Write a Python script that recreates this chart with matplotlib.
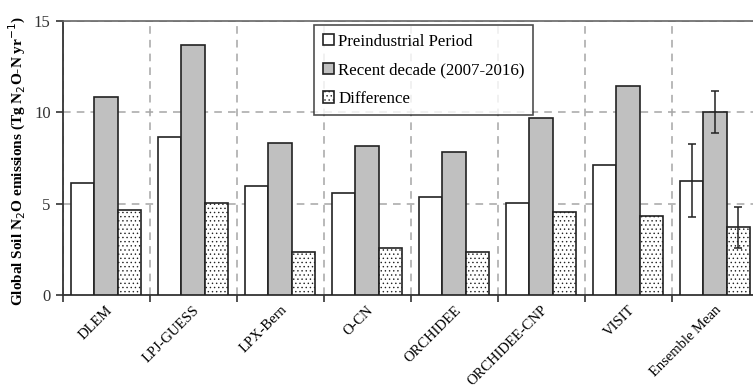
import numpy as np
import matplotlib
matplotlib.use('Agg')
import matplotlib.pyplot as plt

plt.rcParams['font.family'] = 'Liberation Serif'
plt.rcParams['hatch.linewidth'] = 0.5

models = ['DLEM', 'LPJ-GUESS', 'LPX-Bern', 'O-CN', 'ORCHIDEE',
          'ORCHIDEE-CNP', 'VISIT', 'Ensemble Mean']
preindustrial = [6.15, 8.65, 5.95, 5.57, 5.37, 5.05, 7.1, 6.26]
recent = [10.85, 13.68, 8.33, 8.15, 7.82, 9.67, 11.45, 10.0]
difference = [4.65, 5.03, 2.35, 2.57, 2.38, 4.56, 4.3, 3.7]
# error bars only for the ensemble mean
err_pre = [0, 0, 0, 0, 0, 0, 0, 2.0]
err_recent = [0, 0, 0, 0, 0, 0, 0, 1.15]
err_diff = [0, 0, 0, 0, 0, 0, 0, 1.1]

fig = plt.figure(figsize=(7.53, 3.92), dpi=100)
ax = fig.add_axes([62.5 / 753, 97 / 392, 696 / 753, 274 / 392])

x = np.arange(len(models)) + 0.5
w = 0.267
edge = '#222222'
ekw = dict(ecolor='#222222', elinewidth=1.1, capthick=1.1)

def nz(e):
    # hide zero error bars
    return [v if v > 0 else np.nan for v in e]

ax.bar(x - w, preindustrial, w, color='white', edgecolor=edge, linewidth=1.2,
       label='Preindustrial Period', zorder=3)
ax.bar(x, recent, w, color='#c0c0c0', edgecolor=edge, linewidth=1.2,
       label='Recent decade (2007-2016)', zorder=3)
ax.bar(x + w, difference, w, color='white', edgecolor=edge, linewidth=1.2,
       hatch='....', label='Difference', zorder=3)

ax.errorbar(x - w, preindustrial, yerr=nz(err_pre), fmt='none', capsize=3, zorder=4, **ekw)
ax.errorbar(x, recent, yerr=nz(err_recent), fmt='none', capsize=3, zorder=4, **ekw)
ax.errorbar(x + w, difference, yerr=nz(err_diff), fmt='none', capsize=3, zorder=4, **ekw)

ax.set_xlim(0, len(models))
ax.set_ylim(0, 15)
ax.set_yticks([0, 5, 10, 15])
ax.set_xticks(np.arange(len(models) + 1))
ax.set_xticklabels([])
ax.set_xticks(x, minor=True)
ax.set_xticklabels(models, minor=True, rotation=45, ha='right',
                   rotation_mode='anchor', fontsize=10.5)
ax.tick_params(axis='x', which='minor', length=0, pad=6)
ax.tick_params(axis='x', which='major', length=5, width=1.2, color='#333333')
ax.tick_params(axis='y', length=5, width=1.2, color='#333333', labelsize=12,
               labelcolor='#333333')

ax.grid(True, which='major', linestyle=(0, (5, 4)), color='#a6a6a6',
        linewidth=1.1, zorder=0)

for s in ['left', 'bottom']:
    ax.spines[s].set_color('#333333')
    ax.spines[s].set_linewidth(1.3)
ax.spines['top'].set_color('#666666')
ax.spines['top'].set_linewidth(1.2)
ax.spines['right'].set_visible(False)

ax.set_ylabel('Global Soil N$_2$O emissions (Tg N$_2$O-N yr$^{-1}$)',
              fontweight='bold', fontsize=11)
ax.yaxis.set_label_coords(-0.05, 0.49)

leg = ax.legend(loc='upper left', bbox_to_anchor=(0.362, 0.985), fontsize=12.2,
                frameon=True, fancybox=False, edgecolor='#222222',
                handlelength=0.65, handleheight=0.65, handletextpad=0.25,
                labelspacing=0.75, borderpad=0.5, borderaxespad=0)
leg.get_frame().set_linewidth(1.2)
leg.set_zorder(5)

fig.savefig('out.png', dpi=100)
